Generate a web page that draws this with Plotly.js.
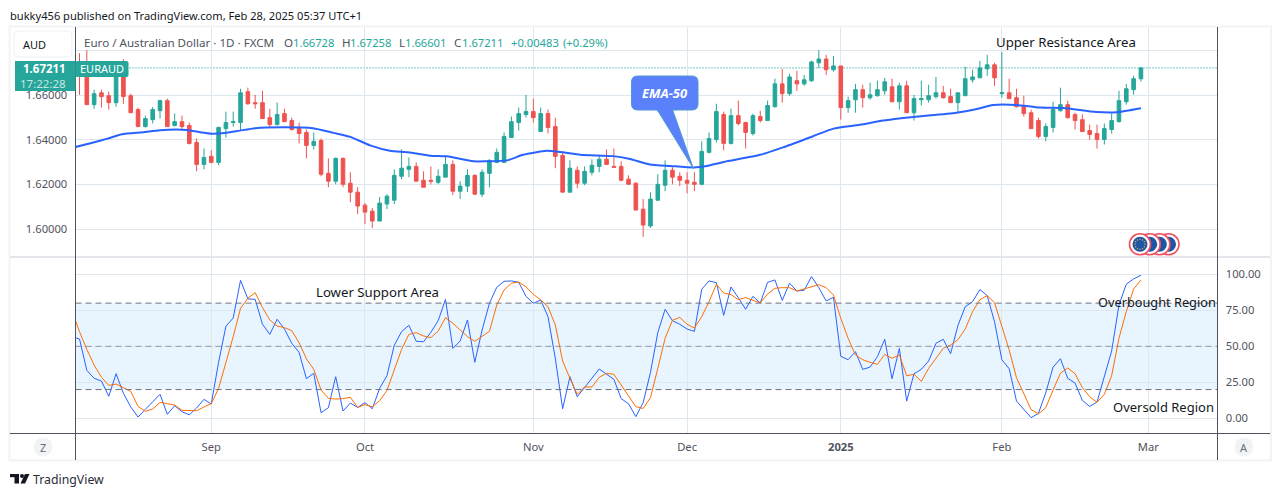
<!DOCTYPE html>
<html><head><meta charset="utf-8">
<script src="https://cdn.plot.ly/plotly-3.0.1.min.js"></script>
<style>html,body{margin:0;padding:0;background:#fff;overflow:hidden}#c{width:1281px;height:496px}</style>
</head><body><div id="c"></div>
<script>
const opens=[1.6735,1.6690,1.6557,1.6610,1.6597,1.6566,1.6730,1.6597,1.6535,1.6459,
1.6490,1.6530,1.6575,1.6464,1.6481,1.6464,1.6388,1.6290,1.6326,1.6299,
1.6450,1.6477,1.6477,1.6615,1.6566,1.6566,1.6499,1.6468,1.6517,1.6486,
1.6450,1.6433,1.6375,1.6397,1.6250,1.6215,1.6317,1.6206,1.6166,1.6108,
1.6081,1.6037,1.6113,1.6130,1.6237,1.6268,1.6281,1.6219,1.6219,1.6210,
1.6233,1.6290,1.6170,1.6193,1.6241,1.6157,1.6250,1.6299,1.6299,1.6410,
1.6477,1.6513,1.6526,1.6437,1.6517,1.6459,1.6330,1.6166,1.6264,1.6206,
1.6255,1.6281,1.6313,1.6281,1.6281,1.6224,1.6206,1.6090,1.6015,1.6130,
1.6197,1.6264,1.6237,1.6219,1.6210,1.6201,1.6344,1.6401,1.6513,1.6384,
1.6508,1.6477,1.6428,1.6504,1.6486,1.6548,1.6650,1.6606,1.6664,1.6650,
1.6664,1.6744,1.6761,1.6713,1.6730,1.6544,1.6579,1.6624,1.6588,1.6597,
1.6619,1.6637,1.6570,1.6641,1.6521,1.6579,1.6579,1.6593,1.6610,1.6593,
1.6566,1.6597,1.6668,1.6677,1.6717,1.6735,1.6606,1.6610,1.6588,1.6553,
1.6521,1.6486,1.6415,1.6455,1.6530,1.6557,1.6513,1.6490,1.6441,1.6428,
1.6401,1.6446,1.6481,1.6570,1.6624,1.66728];
const highs=[1.6787,1.6801,1.6624,1.6624,1.6616,1.6750,1.6761,1.6606,1.6544,1.6508,
1.6547,1.6579,1.6584,1.6517,1.6508,1.6477,1.6406,1.6361,1.6353,1.6459,
1.6526,1.6526,1.6628,1.6633,1.6601,1.6619,1.6539,1.6566,1.6539,1.6499,
1.6477,1.6446,1.6433,1.6406,1.6317,1.6321,1.6321,1.6255,1.6188,1.6117,
1.6095,1.6144,1.6157,1.6268,1.6357,1.6321,1.6299,1.6259,1.6281,1.6268,
1.6330,1.6308,1.6215,1.6268,1.6246,1.6268,1.6313,1.6361,1.6433,1.6504,
1.6544,1.6601,1.6584,1.6544,1.6535,1.6499,1.6348,1.6308,1.6281,1.6281,
1.6313,1.6330,1.6357,1.6361,1.6304,1.6241,1.6210,1.6135,1.6166,1.6246,
1.6308,1.6277,1.6255,1.6255,1.6255,1.6393,1.6433,1.6561,1.6526,1.6539,
1.6575,1.6481,1.6517,1.6530,1.6575,1.6673,1.6717,1.6695,1.6708,1.6690,
1.6753,1.6801,1.6779,1.6775,1.6730,1.6593,1.6650,1.6646,1.6655,1.6664,
1.6677,1.6673,1.6655,1.6664,1.6601,1.6664,1.6646,1.6681,1.6641,1.6628,
1.6610,1.6726,1.6713,1.6753,1.6779,1.6744,1.6793,1.6673,1.6628,1.6597,
1.6535,1.6499,1.6473,1.6570,1.6633,1.6575,1.6521,1.6513,1.6468,1.6468,
1.6473,1.6517,1.6619,1.6650,1.6686,1.67258];
const lows=[1.6601,1.6557,1.6539,1.6544,1.6535,1.6548,1.6561,1.6521,1.6459,1.6455,
1.6473,1.6495,1.6459,1.6459,1.6446,1.6379,1.6259,1.6268,1.6295,1.6286,
1.6410,1.6459,1.6441,1.6557,1.6539,1.6495,1.6455,1.6464,1.6481,1.6441,
1.6384,1.6317,1.6357,1.6237,1.6188,1.6201,1.6188,1.6121,1.6068,1.6024,
1.6006,1.6037,1.6090,1.6113,1.6224,1.6233,1.6215,1.6188,1.6201,1.6201,
1.6233,1.6153,1.6135,1.6166,1.6153,1.6144,1.6188,1.6295,1.6299,1.6410,
1.6441,1.6499,1.6477,1.6437,1.6428,1.6273,1.6166,1.6166,1.6184,1.6197,
1.6241,1.6255,1.6290,1.6277,1.6215,1.6201,1.6086,1.5966,1.6006,1.6130,
1.6170,1.6201,1.6193,1.6161,1.6170,1.6197,1.6339,1.6388,1.6353,1.6379,
1.6464,1.6361,1.6419,1.6477,1.6486,1.6544,1.6566,1.6597,1.6619,1.6641,
1.6659,1.6721,1.6690,1.6704,1.6490,1.6521,1.6521,1.6544,1.6579,1.6593,
1.6601,1.6570,1.6535,1.6521,1.6486,1.6553,1.6566,1.6584,1.6584,1.6566,
1.6521,1.6597,1.6655,1.6677,1.6686,1.6641,1.6588,1.6584,1.6544,1.6504,
1.6450,1.6406,1.6393,1.6433,1.6526,1.6495,1.6446,1.6437,1.6401,1.6361,
1.6379,1.6428,1.6477,1.6557,1.6601,1.66601];
const closes=[1.6683,1.6557,1.6606,1.6593,1.6566,1.6735,1.6593,1.6521,1.6459,1.6495,
1.6535,1.6575,1.6459,1.6481,1.6459,1.6384,1.6290,1.6321,1.6299,1.6455,
1.6477,1.6481,1.6610,1.6561,1.6561,1.6495,1.6468,1.6513,1.6481,1.6446,
1.6428,1.6375,1.6393,1.6246,1.6215,1.6317,1.6201,1.6166,1.6104,1.6077,
1.6037,1.6117,1.6148,1.6241,1.6273,1.6281,1.6215,1.6188,1.6215,1.6237,
1.6290,1.6170,1.6193,1.6241,1.6157,1.6255,1.6308,1.6344,1.6415,1.6481,
1.6517,1.6526,1.6499,1.6517,1.6455,1.6326,1.6166,1.6273,1.6206,1.6259,
1.6286,1.6313,1.6290,1.6277,1.6219,1.6201,1.6086,1.6019,1.6135,1.6201,
1.6264,1.6233,1.6219,1.6206,1.6201,1.6348,1.6406,1.6526,1.6384,1.6508,
1.6473,1.6433,1.6508,1.6486,1.6553,1.6650,1.6606,1.6681,1.6650,1.6668,
1.6748,1.6761,1.6713,1.6730,1.6544,1.6575,1.6624,1.6588,1.6601,1.6624,
1.6659,1.6570,1.6641,1.6521,1.6584,1.6584,1.6597,1.6610,1.6588,1.6566,
1.6610,1.6673,1.6681,1.6721,1.6735,1.6677,1.6610,1.6584,1.6548,1.6517,
1.6450,1.6415,1.6459,1.6535,1.6557,1.6499,1.6486,1.6437,1.6424,1.6401,
1.6450,1.6486,1.6575,1.6628,1.6673,1.67211];
const emaBars=[-1,1.9,3.7,5.8,8.7,11,14.6,16.5,18,20.1,21.9,24,27.8,31.9,34.7,37,39.7,42.4,44.9,47.9,50.2,53.8,55.6,58.4,60.6,63.8,65.2,68.4,72.9,75.2,77.9,80.7,83.9,85.7,88,93,96.1,100.2,103,106.6,109.8,113.9,119.8,122.6,124.8,128,131.2,134.4,138.9,141.7,145];
const ema50=[1.6364,1.6388,1.6404,1.6425,1.6434,1.6443,1.6444,1.6434,1.6427,1.6431,1.6441,1.6452,1.6456,1.6452,1.6431,1.6413,1.6375,1.6351,1.6344,1.6329,1.6326,1.6304,1.6304,1.6308,1.6333,1.6351,1.6348,1.6333,1.6327,1.6314,1.6290,1.6283,1.6276,1.6283,1.6301,1.6333,1.6366,1.6416,1.6450,1.6467,1.6486,1.6502,1.6521,1.6538,1.6556,1.6556,1.6544,1.6542,1.6524,1.6523,1.6541];
const stochK=[56.7,55.1,33.3,27.8,25.9,15.3,31.0,17.4,7.9,0.9,6.3,11.3,16.7,2.8,8.8,4.6,2.5,7.2,13.2,10.0,38.9,
63.9,69.7,95.8,82.9,82.6,65.3,58.3,68.8,62.0,52.1,45.8,27.5,31.3,3.9,7.4,28.9,5.1,10.6,7.6,10.9,
6.7,20.8,29.6,50.7,60.2,64.6,53.5,53.2,59.7,67.8,82.6,48.6,53.7,68.3,38.9,61.3,79.9,91.0,95.1,95.4,
94.4,84.7,79.9,82.2,70.6,41.7,6.7,28.9,15.0,21.5,27.8,34.3,30.6,27.1,13.7,10.2,1.2,10.9,31.9,59.5,
75.7,67.8,65.3,62.0,60.4,89.6,95.4,94.2,71.5,91.2,83.8,75.7,84.7,80.1,94.4,96.1,81.9,93.8,88.4,88.9,
98.4,90.7,81.5,84.0,43.1,40.7,46.3,34.0,35.6,42.8,54.9,27.5,48.6,12.0,31.0,34.0,39.8,52.1,54.9,44.9,
64.4,77.5,81.0,89.4,85.2,67.1,40.7,34.5,12.0,6.3,0.5,3.5,17.8,35.6,41.4,27.8,24.5,12.5,8.3,11.3,
28.9,46.8,78.7,93.1,96.8,99.3];
const stochD=[74.1,60.2,47.9,37.0,28.5,22.9,23.8,21.3,18.8,8.3,4.9,6.5,11.1,10.2,9.3,5.6,5.3,5.3,7.9,10.2,20.8,
38.2,56.7,76.4,83.3,87.3,76.9,68.3,64.1,63.0,60.9,52.5,41.4,34.0,19.7,13.9,13.4,13.7,14.6,7.6,9.5,
8.1,12.3,19.4,33.3,47.9,58.3,59.5,57.2,56.0,60.6,69.9,66.0,61.3,56.7,53.5,56.7,60.4,78.7,89.1,93.8,
94.7,91.2,86.1,82.2,77.5,64.8,39.8,27.8,16.7,21.8,21.8,28.5,31.3,30.6,23.1,16.2,8.1,6.9,14.4,34.7,
55.6,68.1,70.1,65.3,62.7,70.6,81.0,93.1,87.0,85.9,82.4,83.8,81.9,80.1,86.3,90.3,90.7,90.7,88.4,89.8,
91.7,92.8,90.7,85.6,69.4,55.6,44.0,40.7,38.9,37.5,44.4,41.7,44.0,29.6,30.6,25.7,34.7,42.1,48.6,50.9,
54.6,62.0,74.1,82.4,85.2,80.3,64.1,47.5,28.2,17.4,6.0,3.2,7.4,19.7,31.3,35.0,31.0,21.3,15.0,11.1,
16.7,29.6,55.6,74.1,89.8,96.1];
const monthBars=[18,39,62,83,104,126,146];
const monthLabels=['Sep','Oct','Nov','Dec','<b>2025</b>','Feb','Mar'];
const priceTicks=[1.60,1.62,1.64,1.66,1.68];
const priceLabels=['1.60000','1.62000','1.64000','1.66000',''];
const oscTicks=[0,25,50,75,100];
const oscLabels=['0.00','25.00','50.00','75.00','100.00'];
const lastPrice=1.67211;

const W=1281,H=496,FONT='"Noto Sans",sans-serif';
const px=v=>v/W, py=v=>1-v/H;
const bars=opens.map((_,i)=>i);
const oscBars=stochK.map((_,i)=>i-1);
const rr=(x0,y0,x1,y1,r)=>`M${px(x0+r)},${py(y0)}L${px(x1-r)},${py(y0)}Q${px(x1)},${py(y0)} ${px(x1)},${py(y0+r)}L${px(x1)},${py(y1-r)}Q${px(x1)},${py(y1)} ${px(x1-r)},${py(y1)}L${px(x0+r)},${py(y1)}Q${px(x0)},${py(y1)} ${px(x0)},${py(y1-r)}L${px(x0)},${py(y0+r)}Q${px(x0)},${py(y0)} ${px(x0+r)},${py(y0)}Z`;
const paper={xref:'paper',yref:'paper'};
const line=(x0,y0,x1,y1,color,width,dash)=>({type:'line',...paper,x0:px(x0),x1:px(x1),y0:py(y0),y1:py(y1),layer:'above',line:{color,width,dash:dash||'solid'}});
const rect=(x0,y0,x1,y1,fill)=>({type:'rect',...paper,x0:px(x0),x1:px(x1),y0:py(y0),y1:py(y1),layer:'above',fillcolor:fill,line:{width:0}});
const disc=(cx,cy,r,fill,lc,lw)=>({type:'circle',...paper,x0:px(cx-r),x1:px(cx+r),y0:py(cy+r),y1:py(cy-r),layer:'above',fillcolor:fill,line:{color:lc||fill,width:lw||0}});
const path=(d,fill,lc,lw)=>({type:'path',...paper,path:d,layer:'above',fillcolor:fill,line:{color:lc||fill,width:lw||0}});

const shapes=[
 {type:'rect',xref:'paper',yref:'y2',x0:px(75.5),x1:px(1217.5),y0:20,y1:80,layer:'below',fillcolor:'rgba(33,150,243,0.1)',line:{width:0}},
 {type:'line',xref:'paper',yref:'y2',x0:px(75.5),x1:px(1217.5),y0:80,y1:80,layer:'above',line:{color:'#6f727d',width:1,dash:'6px 4px'}},
 {type:'line',xref:'paper',yref:'y2',x0:px(75.5),x1:px(1217.5),y0:50,y1:50,layer:'above',line:{color:'rgba(120,123,134,0.75)',width:1,dash:'6px 4px'}},
 {type:'line',xref:'paper',yref:'y2',x0:px(75.5),x1:px(1217.5),y0:20,y1:20,layer:'above',line:{color:'#6f727d',width:1,dash:'6px 4px'}},
 {type:'line',xref:'paper',yref:'y',x0:px(75.5),x1:px(1217.5),y0:lastPrice,y1:lastPrice,layer:'between',line:{color:'#26a69a',width:1.3,dash:'1px 2px'}},
 {type:'rect',...paper,x0:px(9.5),x1:px(1271),y0:py(460.5),y1:py(26.5),layer:'above',fillcolor:'rgba(0,0,0,0)',line:{color:'#f2f3f5',width:2}},
 line(10,257,1270,257,'#e3e6ec',2),
 line(10,433.5,1270,433.5,'#50535e',1),
 line(75.5,27,75.5,460,'#50535e',1),
 line(1217.5,27,1217.5,460,'#50535e',1),
 path(rr(14,31,72,57,4),'#ffffff','#edeff3',1),
 path(`M${px(15)},${py(61)}L${px(75.5)},${py(61)}L${px(75.5)},${py(91)}L${px(15)},${py(91)}Z`,'#26a69a'),
 path(rr(75.5,61,128.5,77,2),'#26a69a'),
 path(`M${px(656.7)},${py(109)}L${px(693.3)},${py(168.3)}L${px(672.3)},${py(109)}Z`,'#5b80fb','#4f9bd0',1),
 path(rr(631.5,76,698,110,6),'#5b80fb','#4f9bd0',1),
 rect(657.5,107,671.5,111.5,'#5b80fb'),
 disc(43,447,9.5,'#f2f3f6'),
 disc(1244,447,9.5,'#f2f3f6'),
 rect(10,474,19,477.2,'#131722'),
 rect(14.5,474,19,483.5,'#131722'),
 disc(22,476,2,'#131722'),
 path(`M${px(25)},${py(474)}L${px(29.5)},${py(474)}L${px(25)},${py(483.5)}L${px(20.5)},${py(483.5)}Z`,'#131722')
];
[1168.5,1159.4,1149.7,1140].forEach(cx=>{
 shapes.push(disc(cx,244.3,10.5,'#ffffff','#f0505f',1.6));
 shapes.push(disc(cx,244.3,7.5,'#1f55a5'));
});
for(let k=0;k<12;k++){
 const a=k*Math.PI/6;
 shapes.push(disc(1140+5*Math.cos(a),244.3+5*Math.sin(a),0.7,'#d9b64a'));
}

const ann=(text,x,y,o={})=>({text,x:px(o.anchor?x:x-1),y:py(y),xref:'paper',yref:'paper',showarrow:false,xanchor:o.anchor||'left',yanchor:'middle',
  borderpad:0,font:{family:o.family||FONT,size:o.size||11.2,color:o.color||'#50535e'}});
const UP='#26a69a', INK='#131722';
const annotations=[
 ann('bukky456 published on TradingView.com, Feb 28, 2025 05:37 UTC+1',10,15,{size:11.1,color:INK}),
 ann('Euro / Australian Dollar · 1D · FXCM',84,42,{size:11.6}),
 ann('O',284,42,{size:11.6}),ann('1.66728',293,42,{color:UP}),
 ann('H',341.5,42,{size:11.6}),ann('1.67258',350,42,{color:UP}),
 ann('L',399,42,{size:11.6}),ann('1.66601',405,42,{color:UP}),
 ann('C',454,42,{size:11.6}),ann('1.67211',462,42,{color:UP}),
 ann('+0.00483',511,42,{color:UP}),ann('(+0.29%)',563,42,{color:UP}),
 ann('AUD',23,45,{size:11,color:INK}),
 ann('<b>1.67211</b>',67,68,{anchor:'right',size:11.5,color:'#ffffff'}),
 ann('17:22:28',67,83,{anchor:'right',size:11.5,color:'rgba(255,255,255,0.75)'}),
 ann('EURAUD',79.5,68.7,{size:11,color:'#ffffff'}),
 ann('<b><i>EMA-50</i></b>',665,92.5,{anchor:'center',size:13,color:'#ffffff'}),
 ann('Upper Resistance Area',996,42,{size:13.2,color:INK}),
 ann('Lower Support Area',316,292,{size:13.2,color:INK}),
 ann('Overbought Region',1098,302,{size:12.75,color:INK}),
 ann('Oversold Region',1113,407,{size:13,color:INK}),
 ann('Z',43,447.5,{anchor:'center',size:11,color:'#6a6d78'}),
 ann('A',1244,447.5,{anchor:'center',size:11,color:'#6a6d78'}),
 ann('TradingView',33,479,{size:12.3,color:'#2a2e39'})
];

const traces=[
 {type:'candlestick',x:bars,open:opens,high:highs,low:lows,close:closes,xaxis:'x',yaxis:'y',hoverinfo:'skip',whiskerwidth:0,
  increasing:{line:{color:UP,width:1},fillcolor:UP},decreasing:{line:{color:'#ef5350',width:1},fillcolor:'#ef5350'}},
 {type:'scatter',mode:'lines',x:emaBars,y:ema50,xaxis:'x',yaxis:'y',hoverinfo:'skip',line:{color:'#2962ff',width:2,shape:'spline',smoothing:0.6}},
 {type:'scatter',mode:'lines',x:oscBars,y:stochK,xaxis:'x',yaxis:'y2',hoverinfo:'skip',line:{color:'#2962ff',width:1}},
 {type:'scatter',mode:'lines',x:oscBars,y:stochD,xaxis:'x',yaxis:'y2',hoverinfo:'skip',line:{color:'#ff6d00',width:1}}
];
const GRID='#dfe7ee';
const tickFont={family:FONT,size:11.2,color:'#50535e'};
const layout={
 width:W,height:H,margin:{l:0,r:0,t:0,b:0,pad:0},paper_bgcolor:'#ffffff',plot_bgcolor:'#ffffff',showlegend:false,dragmode:false,
 xaxis:{domain:[px(75.5),px(1217.5)],range:[-0.546,155.46],anchor:'y2',rangeslider:{visible:false},tickmode:'array',tickvals:monthBars,ticktext:monthLabels,
   ticks:'outside',ticklen:3,tickcolor:'rgba(0,0,0,0)',tickfont:tickFont,showgrid:true,gridcolor:GRID,gridwidth:1,zeroline:false,showline:false},
 yaxis:{domain:[py(257),py(27)],range:[1.58762,1.69041],side:'left',anchor:'x',tickmode:'array',tickvals:priceTicks,ticktext:priceLabels,
   ticks:'outside',ticklen:5,tickcolor:'rgba(0,0,0,0)',tickfont:tickFont,gridcolor:GRID,gridwidth:1,zeroline:false,showline:false},
 yaxis2:{domain:[py(433.5),py(257)],range:[-10.5,112],side:'right',anchor:'x',tickmode:'array',tickvals:oscTicks,ticktext:oscLabels,
   ticks:'outside',ticklen:5,tickcolor:'rgba(0,0,0,0)',tickfont:tickFont,gridcolor:GRID,gridwidth:1,zeroline:false,showline:false},
 shapes,annotations
};
Plotly.newPlot('c',traces,layout,{staticPlot:true,displayModeBar:false});
</script></body></html>
